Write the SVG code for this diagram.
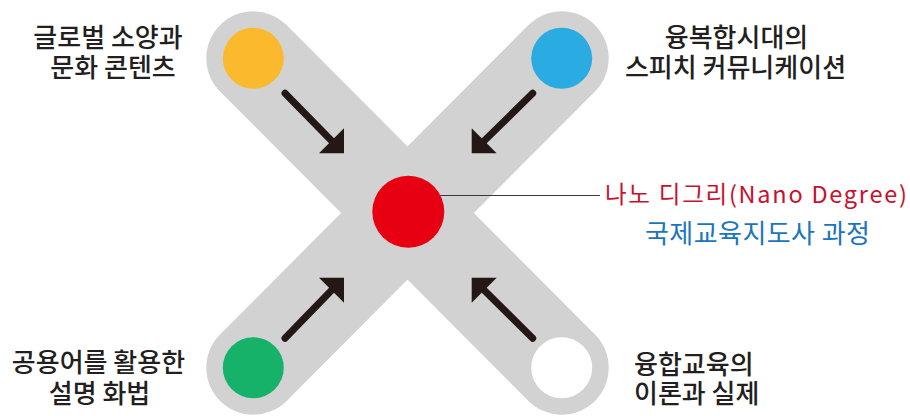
<svg xmlns="http://www.w3.org/2000/svg" width="910" height="416" viewBox="0 0 910 416">
<style>
.band{stroke:#d2d2d2;stroke-width:94;stroke-linecap:round;fill:none}
.lbl{font-family:"Noto Sans CJK KR","Noto Sans",sans-serif;font-size:26px;font-weight:500;fill:#231f20}
.arr{stroke:#231815;stroke-width:7;stroke-linecap:round;fill:none}
.head{fill:#231815}
.ctr{font-family:"Noto Sans CJK KR","Noto Sans",sans-serif}
</style>
<g id="bands">
<line class="band" x1="253.3" y1="58.3" x2="561.7" y2="367.7"/>
<line class="band" x1="561.7" y1="58.3" x2="253.3" y2="367.7"/>
</g>
<g id="connectors">
<line class="arr" x1="285" y1="93.3" x2="334" y2="143.3"/>
<polygon class="head" points="344,153.3 319,153.3 344,128.3"/>
<line class="arr" x1="532.7" y1="93.3" x2="481.7" y2="143.3"/>
<polygon class="head" points="471.7,153.3 496.7,153.3 471.7,128.3"/>
<line class="arr" x1="285" y1="338.3" x2="334" y2="287.7"/>
<polygon class="head" points="344,277.7 319,277.7 344,302.7"/>
<line class="arr" x1="532.7" y1="338.3" x2="481.7" y2="287.7"/>
<polygon class="head" points="471.7,277.7 496.7,277.7 471.7,302.7"/>
<line x1="420" y1="195.5" x2="600" y2="195.5" stroke="#3a3a3a" stroke-width="1.2"/>
</g>
<g id="node-global">
<circle cx="253.3" cy="58.3" r="30.5" fill="#fbb92e"/>
<text class="lbl" x="108" y="47" text-anchor="middle">글로벌 소양과</text>
<text class="lbl" x="113" y="76.5" text-anchor="middle">문화 콘텐츠</text>
</g>
<g id="node-speech">
<circle cx="561.7" cy="58.3" r="30.5" fill="#2aace2"/>
<text class="lbl" x="736.5" y="47" text-anchor="middle">융복합시대의</text>
<text class="lbl" x="735.5" y="76.5" text-anchor="middle">스피치 커뮤니케이션</text>
</g>
<g id="node-lingua">
<circle cx="253.3" cy="367.7" r="30.5" fill="#17b26a"/>
<text class="lbl" x="98.5" y="372" text-anchor="middle">공용어를 활용한</text>
<text class="lbl" x="99.5" y="403" text-anchor="middle">설명 화법</text>
</g>
<g id="node-convergence">
<circle cx="561.7" cy="367.7" r="30.5" fill="#ffffff"/>
<text class="lbl" x="634" y="374">융합교육의</text>
<text class="lbl" x="634" y="402.5">이론과 실제</text>
</g>
<g id="node-center">
<circle cx="408.3" cy="211.7" r="36" fill="#e60012"/>
<text class="ctr" x="605" y="202.5" font-size="23.5" fill="#c8112e" textLength="302" lengthAdjust="spacing">나노 디그리(Nano Degree)</text>
<text class="ctr" x="645" y="243" font-size="26" fill="#1b75bc" textLength="225" lengthAdjust="spacing">국제교육지도사 과정</text>
</g>
</svg>
